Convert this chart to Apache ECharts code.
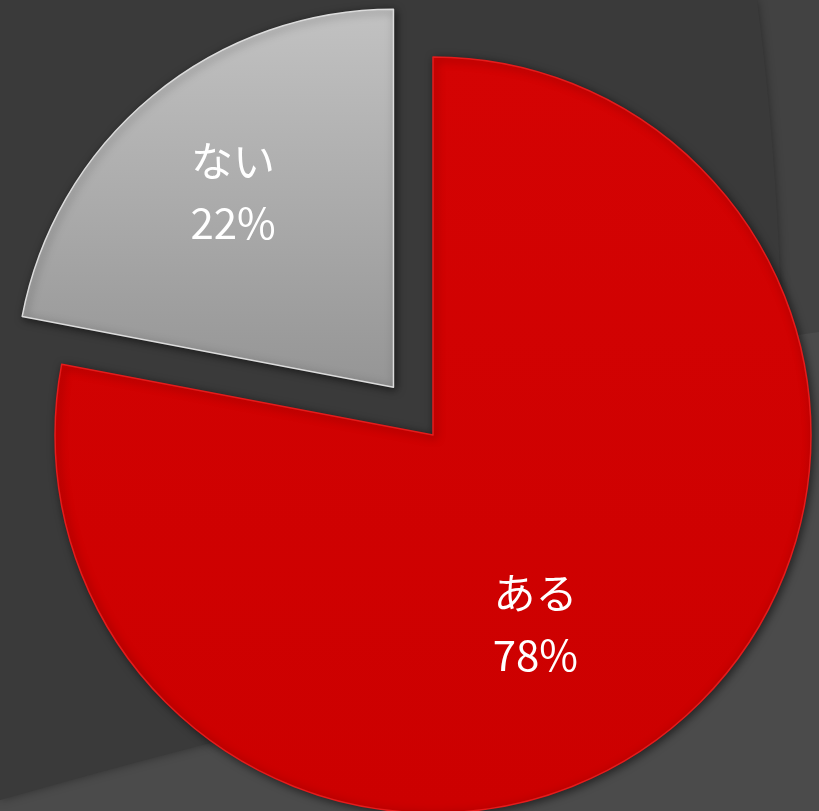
<!DOCTYPE html>
<html>
<head>
<meta charset="utf-8">
<script src="https://cdn.jsdelivr.net/npm/echarts@6/dist/echarts.min.js"></script>
<style>html,body{margin:0;padding:0;background:#4b4b4b;}#main{width:819px;height:811px;}</style>
</head>
<body>
<div id="main"></div>
<script>
const categories = ['ある', 'ない'];
const values = [78, 22];

// quadratic bezier sampler for decorative background shapes
function quad(p0, p1, p2, n) {
  const pts = [];
  for (let i = 0; i <= n; i++) {
    const t = i / n, u = 1 - t;
    pts.push([u*u*p0[0] + 2*u*t*p1[0] + t*t*p2[0], u*u*p0[1] + 2*u*t*p1[1] + t*t*p2[1]]);
  }
  return pts;
}
const darkPts = [[0, 0]]
  .concat(quad([757, 0], [778, 160], [782, 336], 20))
  .concat([[560, 380], [300, 720]])
  .concat(quad([300, 720], [140, 760], [0, 800], 20));
const midPts = [[738, 0], [819, 0], [819, 332], [700, 349]];

const grayFill = {type: 'linear', x: 0, y: 0, x2: 0, y2: 1,
  colorStops: [{offset: 0, color: '#c2c2c2'}, {offset: 1, color: '#959595'}]};

const chart = echarts.init(document.getElementById('main'), null, {renderer: 'canvas'});
const option = {
  backgroundColor: '#4b4b4b',
  animation: false,
  graphic: [
    {type: 'polygon', z: -10, silent: true,
     shape: {points: midPts},
     style: {fill: '#424242'}},
    {type: 'polygon', z: -9, silent: true,
     shape: {points: darkPts},
     style: {fill: '#3a3a3a', shadowBlur: 10, shadowColor: 'rgba(0,0,0,0.35)'}}
  ],
  series: [{
    type: 'pie',
    center: [433, 435],
    radius: [0, 378],
    startAngle: 90,
    clockwise: true,
    selectedMode: 'single',
    selectedOffset: 62,
    avoidLabelOverlap: false,
    labelLine: {show: false},
    emphasis: {disabled: true},
    itemStyle: {
      borderWidth: 1.5,
      shadowBlur: 8,
      shadowColor: 'rgba(0,0,0,0.55)',
      shadowOffsetX: 2,
      shadowOffsetY: 2
    },
    label: {
      show: true,
      position: 'inside',
      formatter: '{b}\n{d}%',
      color: '#ffffff',
      fontFamily: 'Noto Sans CJK JP',
      fontSize: 42,
      lineHeight: 62,
      align: 'center'
    },
    data: categories.map((c, i) => {
      const item = {name: c, value: values[i]};
      if (i === 0) {
        item.itemStyle = {
          color: {type: 'linear', x: 0, y: 0, x2: 0, y2: 1,
            colorStops: [{offset: 0, color: '#d40303'}, {offset: 1, color: '#cc0000'}]},
          borderColor: '#e51c1c'
        };
        item.label = {offset: [-20, 41]};
      } else {
        item.selected = true;
        item.itemStyle = {color: grayFill, borderColor: '#dcdcdc'};
        item.label = {offset: [-38, -47]};
        item.select = {
          itemStyle: {color: grayFill, borderColor: '#dcdcdc'},
          label: {offset: [-38, -47]}
        };
      }
      return item;
    })
  }]
};
chart.setOption(option);
</script>
</body>
</html>
